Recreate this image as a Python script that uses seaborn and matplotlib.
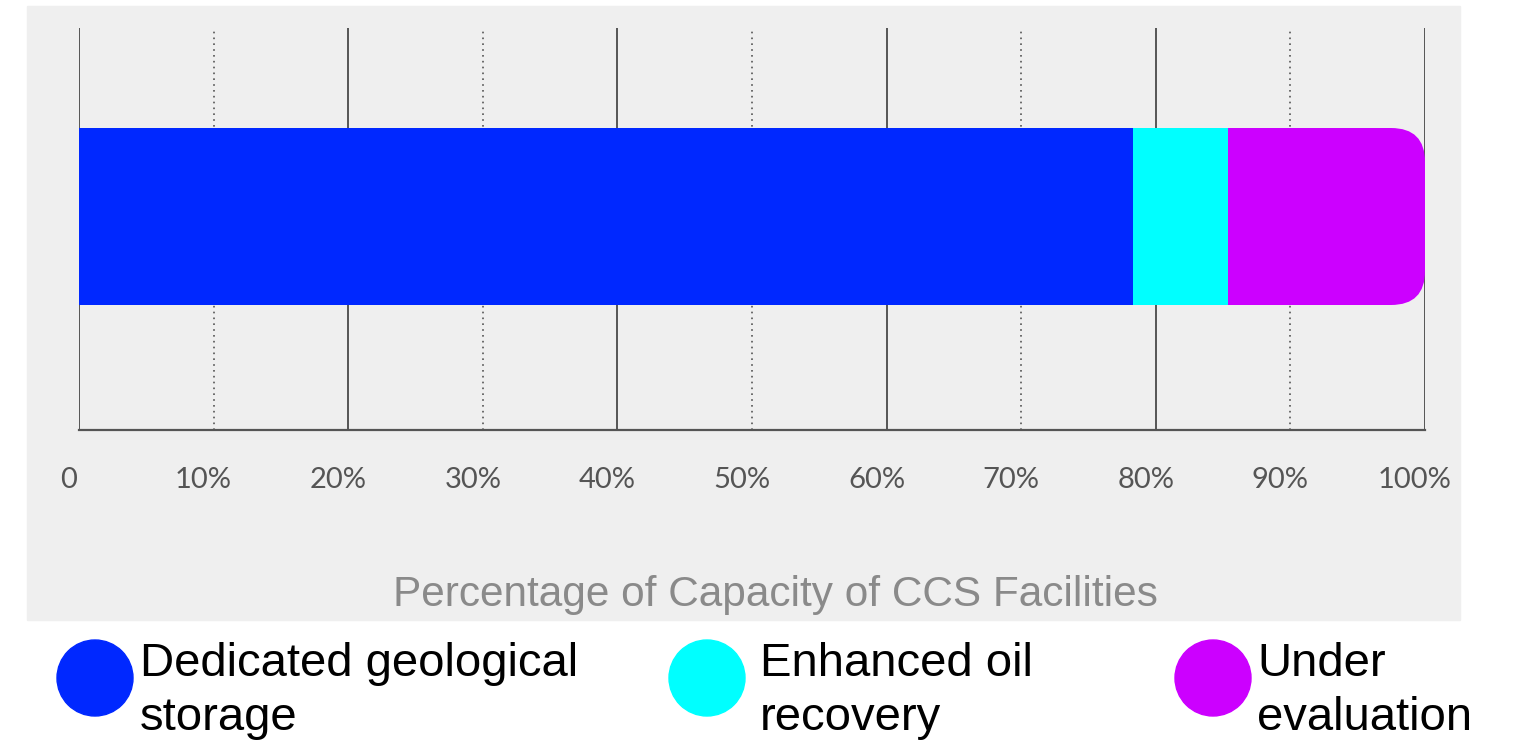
"""
Share of CCS facility capacity by storage type, as a single stacked bar.
"""

import numpy as np
import pandas as pd
import matplotlib
matplotlib.use("Agg")
import matplotlib.pyplot as plt
from matplotlib.patches import FancyBboxPatch, Rectangle, Circle
from matplotlib.transforms import ScaledTranslation
import seaborn as sns

# ── Data ─────────────────────────────────────────────────────────────────────
categories  = ["Dedicated geological\nstorage", "Enhanced oil\nrecovery", "Under\nevaluation"]
shares      = [78.3, 7.1, 14.6]
colors      = ["#0028ff", "#00ffff", "#cc00ff"]
tick_values = list(range(0, 101, 10))
tick_labels = ["0"] + [f"{v}%" for v in tick_values[1:]]
x_label     = "Percentage of Capacity of CCS Facilities"

# ── Figure ───────────────────────────────────────────────────────────────────
W, H, DPI = 1517, 742, 100
sns.set_style("white")
plt.rcParams["font.family"] = ["Liberation Sans", "DejaVu Sans"]

fig = plt.figure(figsize=(W / DPI, H / DPI), dpi=DPI)
fig.patch.set_facecolor("white")

# grey panel behind the plot
fig.add_artist(Rectangle((27 / W, 1 - 620 / H), (1460 - 27) / W, (620 - 6) / H,
                         transform=fig.transFigure, color="#efefef", zorder=-1))

ax_l, ax_r, ax_t, ax_b = 79, 1425, 28, 430
ax = fig.add_axes([ax_l / W, 1 - ax_b / H, (ax_r - ax_l) / W, (ax_b - ax_t) / H])
ax.set_facecolor("none")

# stacked bar: draw cumulative totals from longest to shortest
ends = np.cumsum(shares)
for end, color in zip(ends[::-1], colors[::-1]):
    df = pd.DataFrame({"group": ["CCS"], "end": [end]})
    sns.barplot(data=df, x="end", y="group", orient="h", color=color,
                saturation=1, width=1, linewidth=0, ax=ax, zorder=3)

ax.set_xlim(0, 100)
bar_px = 305 - 128
ax.set_ylim((ax_b - 216.5) / bar_px, -(216.5 - ax_t) / bar_px)

# round the right end of the last segment
px_x = 100 / (ax_r - ax_l)
px_y = (ax.get_ylim()[0] - ax.get_ylim()[1]) / (ax_b - ax_t)
radius = 34
clip = FancyBboxPatch((-10, -0.5), 110, 1,
                      boxstyle=f"round,pad=0,rounding_size={radius * px_x}",
                      mutation_aspect=px_y / px_x, transform=ax.transData,
                      facecolor="none", edgecolor="none")
ax.add_patch(clip)
ax.patches[0].set_clip_path(clip)

# grid: solid every 20%, dotted in between
for i, v in enumerate(tick_values):
    ax.axvline(v, color="#555555", lw=1.4 if i % 2 == 0 else 1.2,
               ls="-" if i % 2 == 0 else (0, (1, 2.5)), zorder=1)

for side in ["left", "right", "top"]:
    ax.spines[side].set_visible(False)
ax.spines["bottom"].set_color("#555555")
ax.spines["bottom"].set_linewidth(1.6)

ax.set_yticks([])
ax.set_ylabel("")
ax.set_xticks(tick_values, tick_labels)
ax.tick_params(axis="x", length=0, pad=27, labelsize=21, labelcolor="#555555")
for lbl in ax.get_xticklabels():
    lbl.set_fontfamily(["Lato", "DejaVu Sans"])
    lbl.set_transform(lbl.get_transform() + ScaledTranslation(-0.1, 0, fig.dpi_scale_trans))

ax.set_xlabel(x_label, fontsize=30.5, color="#8a8a8a")
ax.xaxis.set_label_coords((775 - ax_l) / (ax_r - ax_l), -(595 - ax_b) / (ax_b - ax_t))
ax.xaxis.label.set_va("center")

# ── Legend ───────────────────────────────────────────────────────────────────
circle_x = [95, 707, 1213]
text_x   = [140, 760, 1257]
for cx, tx, label, color in zip(circle_x, text_x, categories, colors):
    fig.add_artist(Circle((cx / DPI, (H - 678) / DPI), 0.38,
                          transform=fig.dpi_scale_trans, color=color))
    fig.text(tx / W, 1 - 642 / H, label, fontsize=34, color="black",
             ha="left", va="top", linespacing=1.28)

fig.savefig("out.png", dpi=DPI)
